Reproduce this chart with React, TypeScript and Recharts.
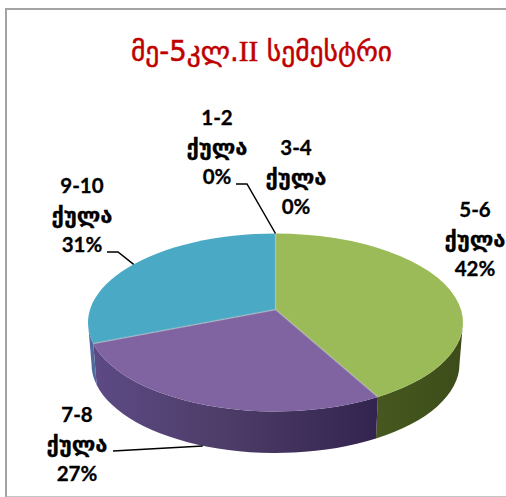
import React from 'react';
import { PieChart, Pie, Cell } from 'recharts';

const titleStart = 'მე-5კლ.';
const titleRoman = 'II';
const titleEnd = ' სემესტრი';
const unit = 'ქულა';
const ranges = ['1-2', '3-4', '5-6', '7-8', '9-10'];
const shares = [0, 0, 42, 27, 31];
const topColors = ['#4f81bd', '#c0504d', '#9bbb59', '#8064a2', '#4aaac6'];
const wallColors = ['#3a5f8c', '#8c3a38', 'url(#wallGreen)', 'url(#wallPurple)', '#4f6a9c'];

// where each label's first line sits, and the elbow of its leader if it has one
const labelSpots = [
  { x: 217, y: 125, leader: [[236, 184], [247, 184]] },
  { x: 296, y: 155, leader: null },
  { x: 475, y: 217, leader: null },
  { x: 77, y: 422, leader: [[113, 451]] },
  { x: 82, y: 193, leader: [[107, 252], [118, 252]] },
];

const data = ranges.map((range, i) => ({ range, share: shares[i] }));

const WIDTH = 506;
const HEIGHT = 497;
const CX = 275.5;
const CY = 322.5;
const RX = 187.5;
const RY = 89;
const DEPTH = 41.5;
const BOTTOM_RX = 184;
const APEX_SHIFT = -0.145; // the pie's centre is drawn above the ellipse's centre, like the perspective in the original
const toRad = Math.PI / 180;

// clockwise degrees from the top of the circle -> same rim point in perspective, in unit coordinates
const perspective = (deg: number) => {
  const x = Math.sin(deg * toRad);
  const y = -Math.cos(deg * toRad);
  const k = 1 + APEX_SHIFT * y;
  return { x: (x * Math.sqrt(1 - APEX_SHIFT * APEX_SHIFT)) / k, y: (y + APEX_SHIFT) / k };
};
const rimPoint = (deg: number) => {
  const p = perspective(deg);
  return { x: CX + p.x * RX, y: CY + p.y * RY };
};
const ellipseAngle = (deg: number) => {
  const p = perspective(deg);
  let t = Math.atan2(p.x, -p.y) / toRad;
  if (t < 0) t += 360;
  return t;
};
const apex = { x: CX, y: CY + APEX_SHIFT * RY };

const onEllipse = (t: number, rx: number, cy: number) => ({
  x: CX + Math.sin(t * toRad) * rx,
  y: cy - Math.cos(t * toRad) * RY,
});

const PieSlice = (props: any) => {
  const { startAngle, endAngle, index } = props;
  const from = 90 - startAngle;
  const to = 90 - endAngle;
  if (to - from < 0.01) return null;

  const a = rimPoint(from);
  const b = rimPoint(to);
  const large = ellipseAngle(to) - ellipseAngle(from) > 180 ? 1 : 0;
  const top = `M${apex.x},${apex.y} L${a.x},${a.y} A${RX},${RY} 0 ${large} 1 ${b.x},${b.y} Z`;

  // only the front half of the rim gets a wall
  const t1 = Math.max(ellipseAngle(from), 90);
  const t2 = Math.min(to >= 360 ? 360 : ellipseAngle(to) || 360, 270);
  let wall = null;
  if (t2 > t1) {
    const p1 = onEllipse(t1, RX, CY);
    const p2 = onEllipse(t2, RX, CY);
    const q1 = onEllipse(t1, BOTTOM_RX, CY + DEPTH);
    const q2 = onEllipse(t2, BOTTOM_RX, CY + DEPTH);
    wall = (
      <path
        d={`M${p1.x},${p1.y} A${RX},${RY} 0 0 1 ${p2.x},${p2.y} L${q2.x},${q2.y} A${BOTTOM_RX},${RY} 0 0 0 ${q1.x},${q1.y} Z`}
        fill={wallColors[index]}
      />
    );
  }

  return (
    <g>
      {wall}
      <path d={top} fill={topColors[index]} />
      <path d={`M${a.x},${a.y} L${apex.x},${apex.y} L${b.x},${b.y}`} fill="none" stroke="#c8c8c8" strokeOpacity={0.35} strokeWidth={1.5} />
    </g>
  );
};

const SliceLabel = (props: any) => {
  const { index, midAngle } = props;
  const spot = labelSpots[index];
  const rim = rimPoint(90 - midAngle);
  // the 7-8 slice is labelled from below, so its leader lands on the wall
  const end = rim.y > CY + RY * 0.5 ? { x: rim.x, y: rim.y + DEPTH } : rim;
  const lines = [ranges[index], unit, `${shares[index]}%`];
  return (
    <g>
      {spot.leader && (
        <polyline
          points={[...spot.leader, [end.x, end.y]].map((p) => p.join(',')).join(' ')}
          fill="none"
          stroke="#000000"
          strokeWidth={1.5}
        />
      )}
      <text
        x={spot.x}
        y={spot.y}
        textAnchor="middle"
        fontFamily="Lato, 'DejaVu Sans', sans-serif"
        fontWeight={700}
        fontSize={20.5}
        fill="#000000"
        stroke="#000000"
        strokeWidth={0.3}
      >
        {lines.map((line, i) => (
          <tspan key={i} x={spot.x} y={spot.y + i * 29.5} fontSize={i === 1 ? 22 : undefined}>
            {line}
          </tspan>
        ))}
      </text>
    </g>
  );
};

export default function App() {
  return (
    <div style={{ position: 'fixed', left: 0, top: 0, width: WIDTH, height: HEIGHT, overflow: 'hidden', background: '#fff' }}>
      <div
        style={{
          position: 'absolute',
          left: 5,
          top: 8,
          width: 600,
          height: 486,
          border: '2px solid #a3a3a3',
          borderBottomColor: '#c4c4c4',
        }}
      />
      <div style={{ position: 'absolute', left: 0, top: 0 }}>
        <PieChart width={WIDTH} height={HEIGHT} margin={{ top: 0, right: 0, bottom: 0, left: 0 }}>
          <defs>
            <linearGradient id="wallPurple" x1="0" y1="0" x2="1" y2="0">
              <stop offset="0%" stopColor="#5d4a86" />
              <stop offset="45%" stopColor="#4d3d68" />
              <stop offset="100%" stopColor="#33234f" />
            </linearGradient>
            <linearGradient id="wallGreen" x1="0" y1="0" x2="1" y2="0">
              <stop offset="0%" stopColor="#46581f" />
              <stop offset="100%" stopColor="#3d4d1a" />
            </linearGradient>
          </defs>
          <text
            x={261.5}
            y={61}
            textAnchor="middle"
            fontFamily="'DejaVu Sans', sans-serif"
            fontSize={27.5}
            fill="#c00000"
            stroke="#c00000"
            strokeWidth={0.5}
          >
            {titleStart}
            <tspan fontFamily="'Liberation Serif', serif" fontSize={29}>
              {titleRoman}
            </tspan>
            {titleEnd}
          </text>
          <Pie
            data={data}
            dataKey="share"
            nameKey="range"
            cx={CX}
            cy={CY}
            innerRadius={0}
            outerRadius={RX}
            startAngle={90}
            endAngle={-270}
            paddingAngle={0}
            stroke="none"
            isAnimationActive={false}
            shape={PieSlice}
            label={SliceLabel}
            labelLine={false}
          >
            {data.map((d, i) => (
              <Cell key={d.range} fill={topColors[i]} />
            ))}
          </Pie>
        </PieChart>
      </div>
    </div>
  );
}
